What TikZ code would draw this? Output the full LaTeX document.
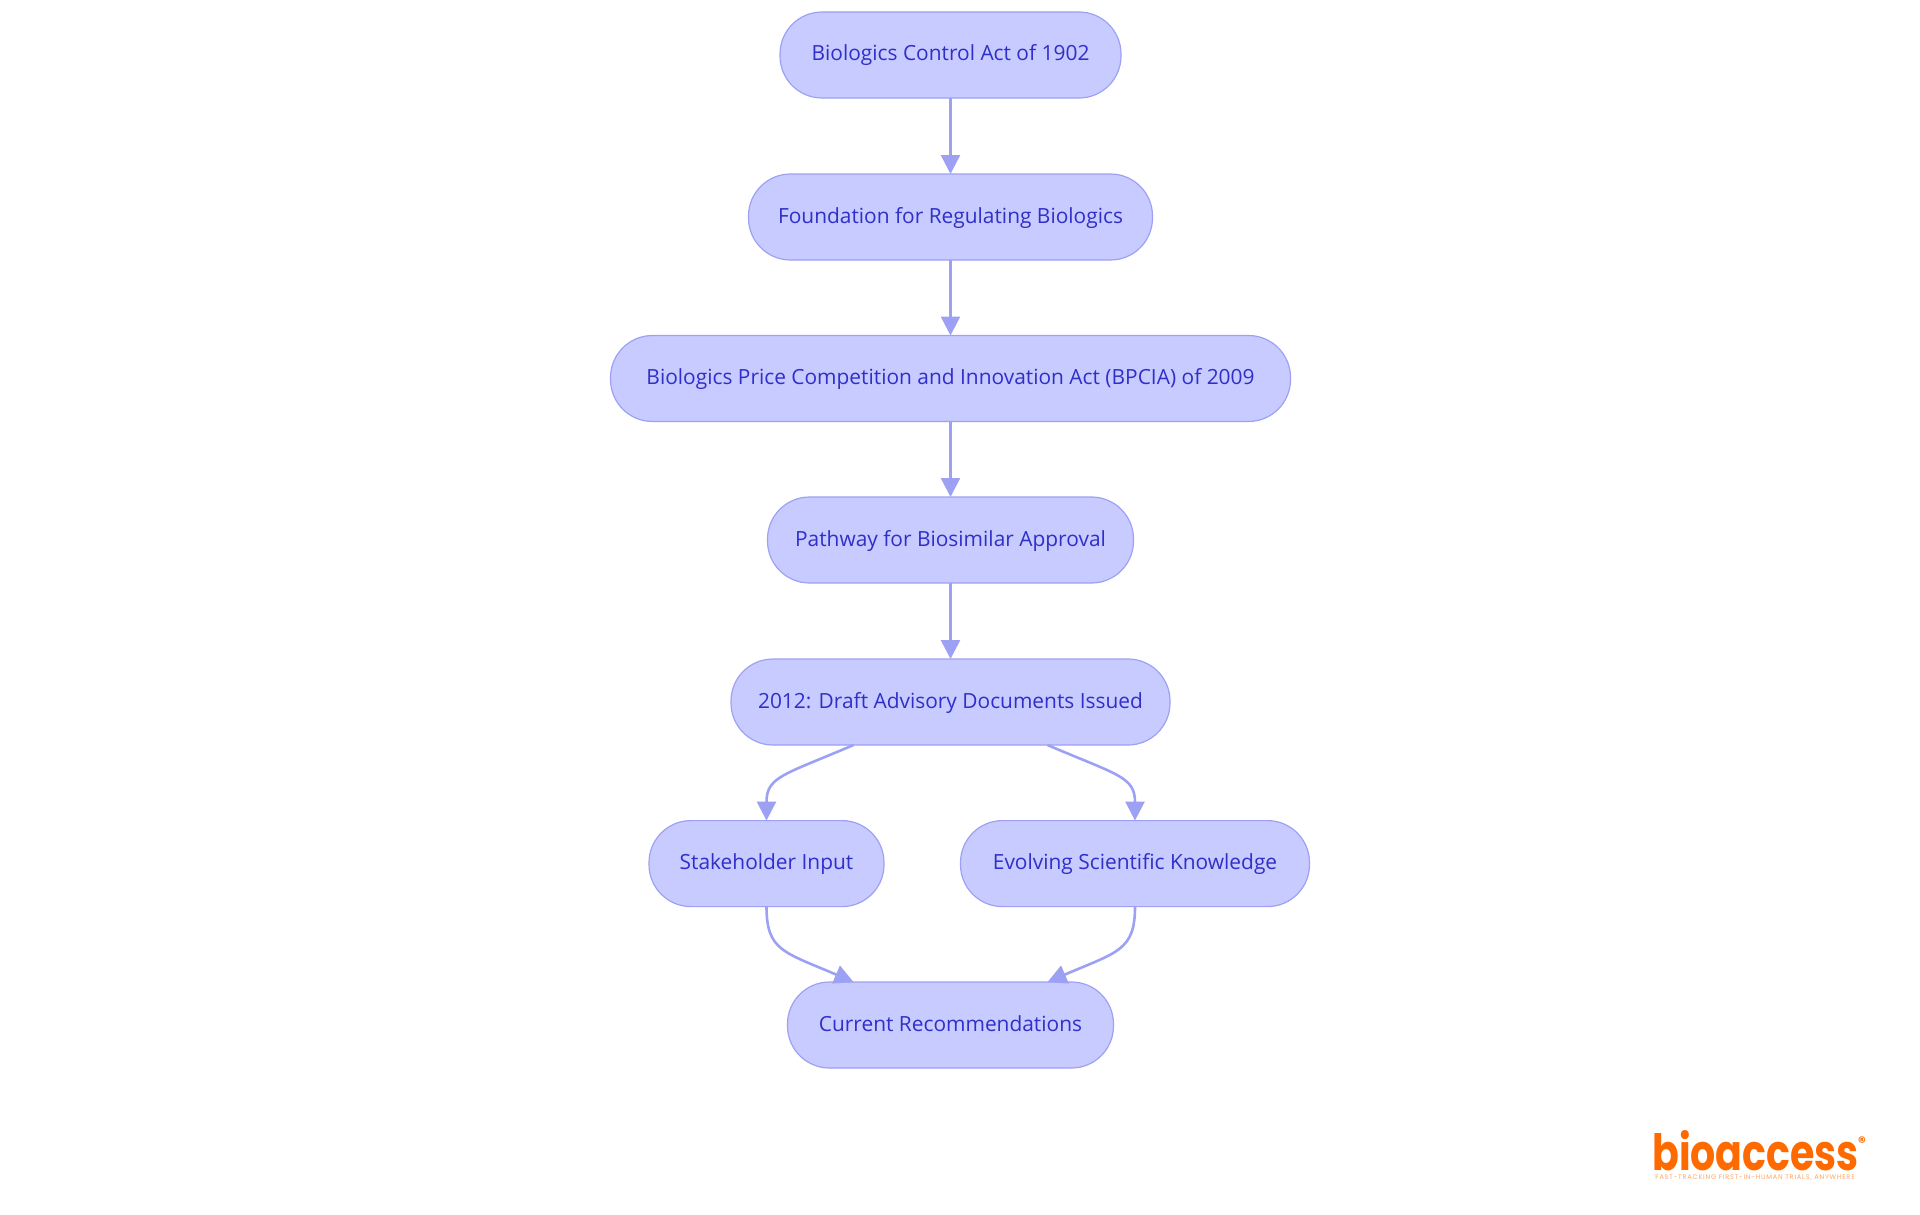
\documentclass[tikz,border=0pt]{standalone}
\usepackage{fontspec}
\setmainfont{Open Sans}
\newfontfamily\logofont{Poppins}
\usetikzlibrary{arrows.meta,positioning}
\definecolor{boxfill}{HTML}{C8CBFF}
\definecolor{boxline}{HTML}{9DA1F3}
\definecolor{boxtext}{HTML}{2F2FC9}
\definecolor{logoorange}{HTML}{FF6A00}
\tikzset{
    stepbox/.style={draw=boxline, fill=boxfill, line width=1.2pt, rounded corners=42pt, minimum height=86pt, inner sep=0pt, outer sep=0pt, text=boxtext, text height=16pt, text depth=4pt, font=\fontsize{20.9}{25}\selectfont},
    link/.style={draw=boxline, line width=2.6pt, -{Triangle[length=19pt,width=19pt]}}
}
\begin{document}
\begin{tikzpicture}[x=1pt,y=1pt]
    \useasboundingbox (0,0) rectangle (1920,-1215);

    % Boxes
    \node[stepbox, minimum width=341pt] (act1902) at (950.5,-55) {Biologics Control Act of 1902};
    \node[stepbox, minimum width=404pt] (foundation) at (950.5,-217) {Foundation for Regulating Biologics};
    \node[stepbox, minimum width=680pt] (bpcia) at (950.5,-378.5) {Biologics Price Competition and Innovation Act (BPCIA) of 2009};
    \node[stepbox, minimum width=366pt] (pathway) at (950.5,-540) {Pathway for Biosimilar Approval};
    \node[stepbox, minimum width=439pt] (draft) at (950.5,-702) {2012: Draft Advisory Documents Issued};
    \node[stepbox, minimum width=235pt] (input) at (766.5,-863.6) {Stakeholder Input};
    \node[stepbox, minimum width=349pt] (knowledge) at (1135,-863.6) {Evolving Scientific Knowledge};
    \node[stepbox, minimum width=326pt] (current) at (950.5,-1025) {Current Recommendations};

    % Straight links
    \draw[link] (act1902) -- (foundation);
    \draw[link] (foundation) -- (bpcia);
    \draw[link] (bpcia) -- (pathway);
    \draw[link] (pathway) -- (draft);

    % Curved links
    \draw[link] ([xshift=-97pt]draft.south) .. controls +(-70,-30) and +(0,44) .. (input.north);
    \draw[link] ([xshift=97pt]draft.south) .. controls +(70,-30) and +(0,44) .. (knowledge.north);
    \draw[link] (input.south) .. controls +(0,-44) and +(-70,30) .. ([xshift=-97pt]current.north);
    \draw[link] (knowledge.south) .. controls +(0,-44) and +(70,30) .. ([xshift=97pt]current.north);

    % Logo
    \node[anchor=base, inner sep=0pt, xscale=0.79, transform shape, text=logoorange, font=\logofont\bfseries\fontsize{50}{50}\selectfont] (logo) at (1755.5,-1170) {bioaccess};
    \node[inner sep=0pt, text=logoorange, font=\logofont\bfseries\fontsize{15}{15}\selectfont] (logomark) at (1862,-1142) {®};
    \node[inner sep=0pt, text=logoorange!60, font=\logofont\fontsize{6.6}{7}\selectfont] (tagline) at (1755,-1177.5) {\addfontfeature{LetterSpace=12}FAST-TRACKING FIRST-IN-HUMAN TRIALS, ANYWHERE};
\end{tikzpicture}
\end{document}
